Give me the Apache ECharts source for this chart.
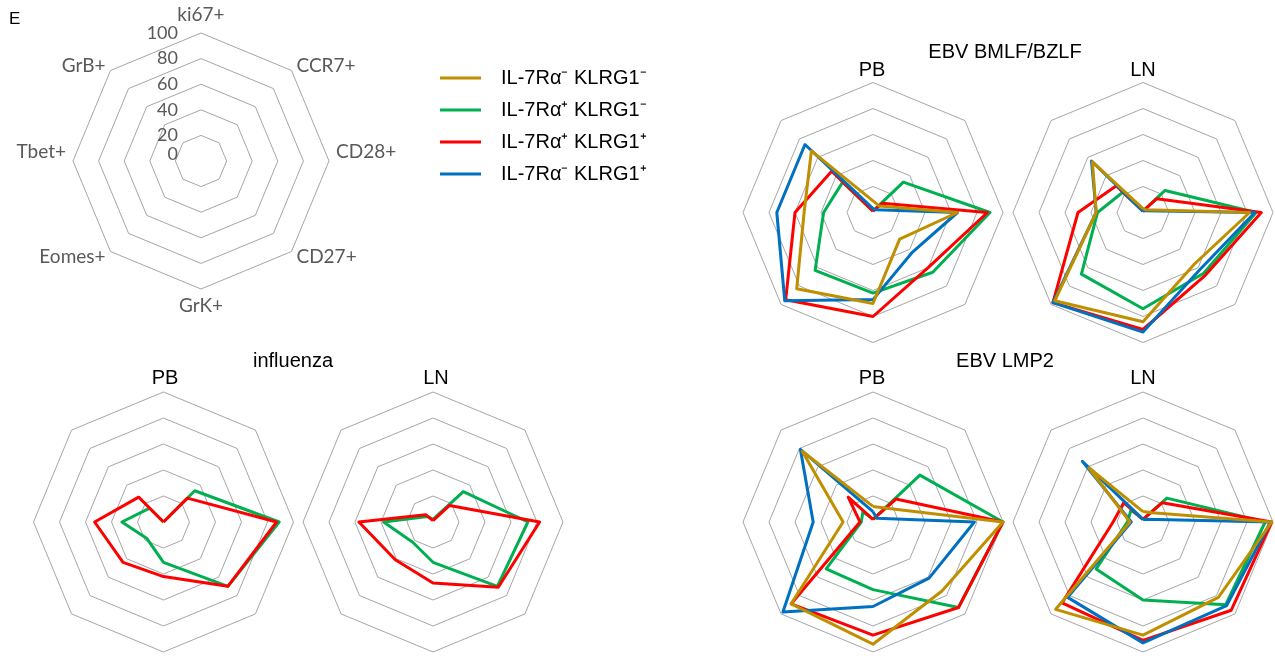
<!DOCTYPE html>
<html>
<head>
<meta charset="utf-8">
<script src="https://cdn.jsdelivr.net/npm/echarts@6/dist/echarts.min.js"></script>
<style>
  html, body { margin: 0; padding: 0; background: #ffffff; }
  #chart { width: 1275px; height: 663px; }
</style>
</head>
<body>
<div id="chart"></div>
<script>
// Marker axes, clockwise from the top
const markers = ['ki67+', 'CCR7+', 'CD28+', 'CD27+', 'GrK+', 'Eomes+', 'Tbet+', 'GrB+'];
// Ring labels of the key radar (% positive)
const ringTicks = ['0', '20', '40', '60', '80', '100'];
// Subsets shown in the legend
const subsets = ['IL-7Rα⁻ KLRG1⁻', 'IL-7Rα⁺ KLRG1⁻', 'IL-7Rα⁺ KLRG1⁺', 'IL-7Rα⁻ KLRG1⁺'];
const subsetColors = ['#BF8F00', '#00B050', '#FF0000', '#0070C0'];

// % positive per marker (order of `markers`)
// EBV BMLF/BZLF, peripheral blood
const bmlfPB_R7negK1neg = [9, 7, 65, 29, 70, 83, 53, 67];
const bmlfPB_R7posK1neg = [1, 33, 90, 65, 62, 63, 38, 33];
const bmlfPB_R7posK1pos = [1, 10, 88, 60, 80, 95, 60, 45];
const bmlfPB_R7negK1pos = [3, 3, 65, 43, 67, 96, 74, 74];
// EBV BMLF/BZLF, lymph node
const bmlfLN_R7negK1neg = [3, 3, 82, 56, 84, 96, 36, 55];
const bmlfLN_R7posK1neg = [1, 24, 87, 66, 74, 67, 35, 22];
const bmlfLN_R7posK1pos = [1, 15, 91, 68, 90, 98, 50, 29];
const bmlfLN_R7negK1pos = [1, 2, 86, 62, 92, 98, 36, 56];
// influenza, peripheral blood
const fluPB_R7posK1neg = [0, 34, 89, 70, 31, 18, 32, 15];
const fluPB_R7posK1pos = [0, 26, 87, 70, 42, 44, 53, 27];
// influenza, lymph node
const fluLN_R7posK1neg = [2, 33, 73, 70, 31, 22, 38, 6];
const fluLN_R7posK1pos = [1, 18, 82, 71, 47, 41, 57, 8];
// EBV LMP2, peripheral blood
const lmp2PB_R7negK1neg = [12, 15, 100, 75, 94, 89, 23, 77];
const lmp2PB_R7posK1neg = [2, 51, 100, 93, 52, 51, 9, 11];
const lmp2PB_R7posK1pos = [2, 25, 100, 93, 87, 89, 10, 27];
const lmp2PB_R7negK1pos = [8, 4, 78, 61, 65, 98, 46, 79];
// EBV LMP2, lymph node
const lmp2LN_R7negK1neg = [8, 10, 99, 82, 87, 95, 10, 59];
const lmp2LN_R7posK1neg = [2, 26, 94, 90, 60, 51, 12, 13];
const lmp2LN_R7posK1pos = [2, 21, 99, 96, 91, 88, 23, 21];
const lmp2LN_R7negK1pos = [2, 3, 98, 91, 93, 82, 9, 66];

// ECharts lays radar indicators out counter-clockwise; this order puts them clockwise
const AXIS_ORDER = [0, 7, 6, 5, 4, 3, 2, 1];
const reorder = arr => AXIS_ORDER.map(i => arr[i]);

const GRID = '#A6A6A6';
const SANS = '"Liberation Sans", Arial, sans-serif';
const KEY_FONT = 'Lato, "Open Sans", sans-serif';
const KEY_GREY = '#595959';

// panels: radar centre plus the subset lines it carries (index into subsets)
const panels = [
  { center: [873, 212.5], lines: [[1, bmlfPB_R7posK1neg], [2, bmlfPB_R7posK1pos], [3, bmlfPB_R7negK1pos], [0, bmlfPB_R7negK1neg]] },
  { center: [1143, 212.5], lines: [[1, bmlfLN_R7posK1neg], [2, bmlfLN_R7posK1pos], [3, bmlfLN_R7negK1pos], [0, bmlfLN_R7negK1neg]] },
  { center: [163.5, 522], lines: [[1, fluPB_R7posK1neg], [2, fluPB_R7posK1pos]] },
  { center: [433, 522], lines: [[1, fluLN_R7posK1neg], [2, fluLN_R7posK1pos]] },
  { center: [873, 522], lines: [[1, lmp2PB_R7posK1neg], [2, lmp2PB_R7posK1pos], [3, lmp2PB_R7negK1pos], [0, lmp2PB_R7negK1neg]] },
  { center: [1143, 522], lines: [[1, lmp2LN_R7posK1neg], [2, lmp2LN_R7posK1pos], [3, lmp2LN_R7negK1pos], [0, lmp2LN_R7negK1neg]] }
];

const headings = [
  { text: 'E', x: 9, y: 19, align: 'left', size: 17 },
  { text: 'EBV BMLF/BZLF', x: 1005, y: 52, align: 'center', size: 20 },
  { text: 'PB', x: 872, y: 70, align: 'center', size: 20 },
  { text: 'LN', x: 1143, y: 70, align: 'center', size: 20 },
  { text: 'influenza', x: 293, y: 361, align: 'center', size: 20 },
  { text: 'PB', x: 165, y: 378, align: 'center', size: 20 },
  { text: 'LN', x: 436, y: 378, align: 'center', size: 20 },
  { text: 'EBV LMP2', x: 1005, y: 361, align: 'center', size: 20 },
  { text: 'PB', x: 872, y: 378, align: 'center', size: 20 },
  { text: 'LN', x: 1143, y: 378, align: 'center', size: 20 }
];

const baseRadar = {
  startAngle: 90,
  splitNumber: 5,
  shape: 'polygon',
  axisLine: { show: false },
  axisTick: { show: false },
  axisLabel: { show: false },
  splitArea: { show: false },
  splitLine: { lineStyle: { color: GRID, width: 1 } }
};

// key radar: marker names and ring values, no data
const keyIndicators = reorder(markers).map(name => ({ name: name, min: 0, max: 100 }));
keyIndicators[0].axisLabel = {
  show: true,
  margin: 23,
  color: KEY_GREY,
  fontFamily: KEY_FONT,
  fontSize: 18,
  formatter: v => {
    const t = ringTicks[Math.round(v / 20)];
    return v === 0 ? '{centre|' + t + '}' : t;
  },
  rich: {
    centre: { color: KEY_GREY, fontFamily: KEY_FONT, fontSize: 18, padding: [0, 0, 14, 0] }
  }
};

const radars = [
  Object.assign({}, baseRadar, {
    center: [201, 161],
    radius: 128,
    indicator: keyIndicators,
    nameGap: 7,
    axisName: {
      color: KEY_GREY,
      fontFamily: KEY_FONT,
      fontSize: 19,
      formatter: name => (name === 'CD28+' || name === 'Tbet+') ? '{lift|' + name + '}' : name,
      rich: {
        lift: { color: KEY_GREY, fontFamily: KEY_FONT, fontSize: 19, padding: [0, 0, 18, 0] }
      }
    }
  })
].concat(panels.map(p => Object.assign({}, baseRadar, {
  center: p.center,
  radius: 130,
  indicator: markers.map(name => ({ name: name, min: 0, max: 100 })),
  axisName: { show: false }
})));

const series = panels.map((p, k) => ({
  type: 'radar',
  radarIndex: k + 1,
  symbol: 'none',
  silent: true,
  data: p.lines.map(([s, vals]) => ({
    name: subsets[s],
    value: reorder(vals),
    lineStyle: { color: subsetColors[s], width: 3 },
    itemStyle: { color: subsetColors[s] }
  }))
}));

const chart = echarts.init(document.getElementById('chart'), null, { renderer: 'canvas' });
chart.setOption({
  animation: false,
  backgroundColor: '#ffffff',
  legend: {
    data: subsets,
    orient: 'vertical',
    left: 435,
    top: 63,
    icon: 'rect',
    itemWidth: 41,
    itemHeight: 3,
    itemGap: 12,
    selectedMode: false,
    textStyle: { color: '#000000', fontFamily: SANS, fontSize: 20, padding: [0, 0, 0, 15] }
  },
  radar: radars,
  series: series,
  graphic: headings.map(h => ({
    type: 'text',
    x: h.x,
    y: h.y,
    silent: true,
    style: {
      text: h.text,
      fill: '#000000',
      font: h.size + 'px ' + SANS,
      align: h.align,
      verticalAlign: 'middle'
    }
  }))
});
</script>
</body>
</html>
